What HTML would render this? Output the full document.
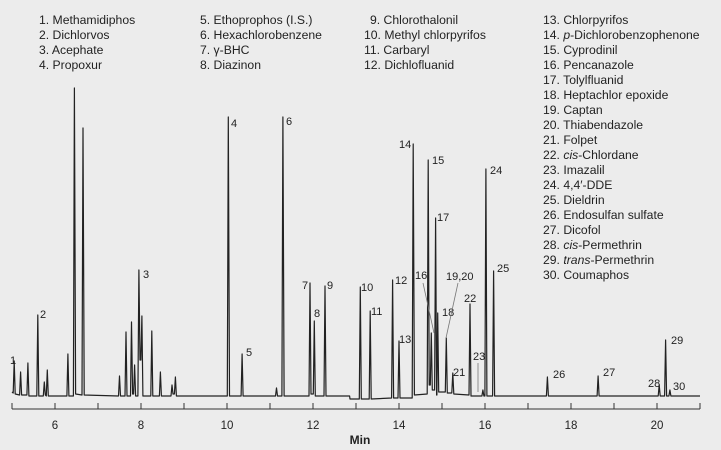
<!DOCTYPE html>
<html><head><meta charset="utf-8"><style>
html,body{margin:0;padding:0;background:#ececec;}
svg{display:block;font-family:"Liberation Sans",sans-serif;}
.lg{font-size:12.2px;fill:#222;}
.pk{font-size:11px;fill:#222;}
.tk{font-size:11.5px;fill:#222;}
</style></head><body>
<svg width="721" height="450" xmlns="http://www.w3.org/2000/svg">
<rect width="721" height="450" fill="#ececec"/>
<g class="lg">
<text x="39" y="24">1. Methamidiphos</text>
<text x="39" y="39">2. Dichlorvos</text>
<text x="39" y="54">3. Acephate</text>
<text x="39" y="69">4. Propoxur</text>
<text x="200" y="24">5. Ethoprophos (I.S.)</text>
<text x="200" y="39">6. Hexachlorobenzene</text>
<text x="200" y="54">7. γ-BHC</text>
<text x="200" y="69">8. Diazinon</text>
<text x="370" y="24">9. Chlorothalonil</text>
<text x="364" y="39">10. Methyl chlorpyrifos</text>
<text x="364" y="54">11. Carbaryl</text>
<text x="364" y="69">12. Dichlofluanid</text>
<text x="543" y="24">13. Chlorpyrifos</text>
<text x="543" y="39">14. <tspan font-style="italic">p</tspan>-Dichlorobenzophenone</text>
<text x="543" y="54">15. Cyprodinil</text>
<text x="543" y="69">16. Pencanazole</text>
<text x="543" y="84">17. Tolylfluanid</text>
<text x="543" y="99">18. Heptachlor epoxide</text>
<text x="543" y="114">19. Captan</text>
<text x="543" y="129">20. Thiabendazole</text>
<text x="543" y="144">21. Folpet</text>
<text x="543" y="159">22. <tspan font-style="italic">cis</tspan>-Chlordane</text>
<text x="543" y="174">23. Imazalil</text>
<text x="543" y="189">24. 4,4′-DDE</text>
<text x="543" y="204">25. Dieldrin</text>
<text x="543" y="219">26. Endosulfan sulfate</text>
<text x="543" y="234">27. Dicofol</text>
<text x="543" y="249">28. <tspan font-style="italic">cis</tspan>-Permethrin</text>
<text x="543" y="264">29. <tspan font-style="italic">trans</tspan>-Permethrin</text>
<text x="543" y="279">30. Coumaphos</text>
</g>
<g stroke="#333" stroke-width="1">
<line x1="12" y1="409" x2="700" y2="409"/>
<path d="M12,403V409M55,403V409M98,403V409M141,403V409M184,403V409M227,403V409M270,403V409M313,403V409M356,403V409M399,403V409M442,403V409M485,403V409M528,403V409M571,403V409M614,403V409M657,403V409M700,403V409"/>
</g>
<path fill="none" stroke="#222" stroke-width="1.2" stroke-linejoin="round" d="M12,392 L13.2,393 L14.2,361 L15.2,394 L19.6,395 L20.6,372 L21.6,395 L26.9,395 L27.9,363 L28.9,396 L36.8,396 L37.8,315 L38.8,396 L43.3,396 L44.3,382 L45.3,395 L46.3,396 L47.3,370 L48.3,396 L66.9,396 L67.9,354 L68.9,396 L73.4,396 L74.4,88 L75.6,394 L82,395 L83,128 L84.2,395 L118.5,396 L119.5,376 L120.5,396 L125,396 L126,332 L127,396 L130.5,396 L131.5,322 L132.6,394 L133.6,394 L134.6,365 L135.6,396 L137.9,396 L138.9,270 L140,360 L140.9,360 L141.9,316 L142.9,396 L150.8,396 L151.8,331 L152.8,396 L159.4,396 L160.4,372 L161.4,396 L171,396 L172,385 L173,394 L174.4,394 L175.4,377 L176.4,396 L227.3,396 L228.3,117 L229.5,396 L241.1,396 L242.1,354 L243.1,396 L275.5,396 L276.5,388 L277.5,396 L281.9,396 L282.9,117 L284.1,396 L309,396 L310,283 L311,394 L313.3,394 L314.3,321 L315.3,396 L324,396 L325,286 L326,396 L349.6,396 L350,399 L359.3,399 L360.3,287 L361.3,399 L369.2,399 L370.2,311 L371.2,399 L391.6,398 L392.6,280 L393.6,398 L398,398 L399,341 L400,398 L412.2,398 L413.2,144 L414.4,395 L427.2,394 L428.2,160 L429.2,385 L430.3,385 L431.3,333 L432.3,390 L434.6,390 L435.6,218 L436.6,395 L436.9,395 L437.7,313 L438.7,392 L445.3,392 L446.3,338 L447.3,393 L451.8,393 L452.8,373 L453.8,394 L469,395 L470,304 L471,396 L481.9,396 L482.9,390 L483.9,396 L484.9,396 L485.9,169 L486.9,396 L492.6,396 L493.6,271 L494.6,396 L546.4,396 L547.4,377 L548.4,396 L597.1,396 L598.1,376 L599.1,396 L658.2,396 L659.2,385 L660.2,396 L664.6,396 L665.6,340 L666.6,396 L668.9,396 L669.9,390 L670.9,396 L700,396"/>
<g class="pk">
<text x="10" y="364">1</text>
<text x="40" y="318">2</text>
<text x="143" y="278">3</text>
<text x="231" y="127">4</text>
<text x="246" y="356">5</text>
<text x="286" y="125">6</text>
<text x="302" y="289">7</text>
<text x="314" y="317">8</text>
<text x="327" y="289">9</text>
<text x="361" y="291">10</text>
<text x="371" y="315">11</text>
<text x="395" y="284">12</text>
<text x="399" y="343">13</text>
<text x="399" y="148">14</text>
<text x="432" y="164">15</text>
<text x="415" y="279">16</text>
<text x="437" y="221">17</text>
<text x="442" y="316">18</text>
<text x="446" y="280">19,20</text>
<text x="453" y="376">21</text>
<text x="464" y="302">22</text>
<text x="473" y="360">23</text>
<text x="490" y="174">24</text>
<text x="497" y="272">25</text>
<text x="553" y="378">26</text>
<text x="603" y="376">27</text>
<text x="648" y="387">28</text>
<text x="671" y="344">29</text>
<text x="673" y="390">30</text>
</g>
<g stroke="#777" stroke-width="0.8">
<line x1="423" y1="283" x2="434" y2="333"/>
<line x1="458" y1="283" x2="446" y2="338"/>
<line x1="478" y1="363" x2="478" y2="392"/>
</g>
<g class="tk" text-anchor="middle">
<text x="55" y="429">6</text><text x="141" y="429">8</text><text x="227" y="429">10</text>
<text x="313" y="429">12</text><text x="399" y="429">14</text><text x="485" y="429">16</text>
<text x="571" y="429">18</text><text x="657" y="429">20</text>
<text x="360" y="444" font-weight="bold" font-size="12">Min</text>
</g>
</svg>
</body></html>
